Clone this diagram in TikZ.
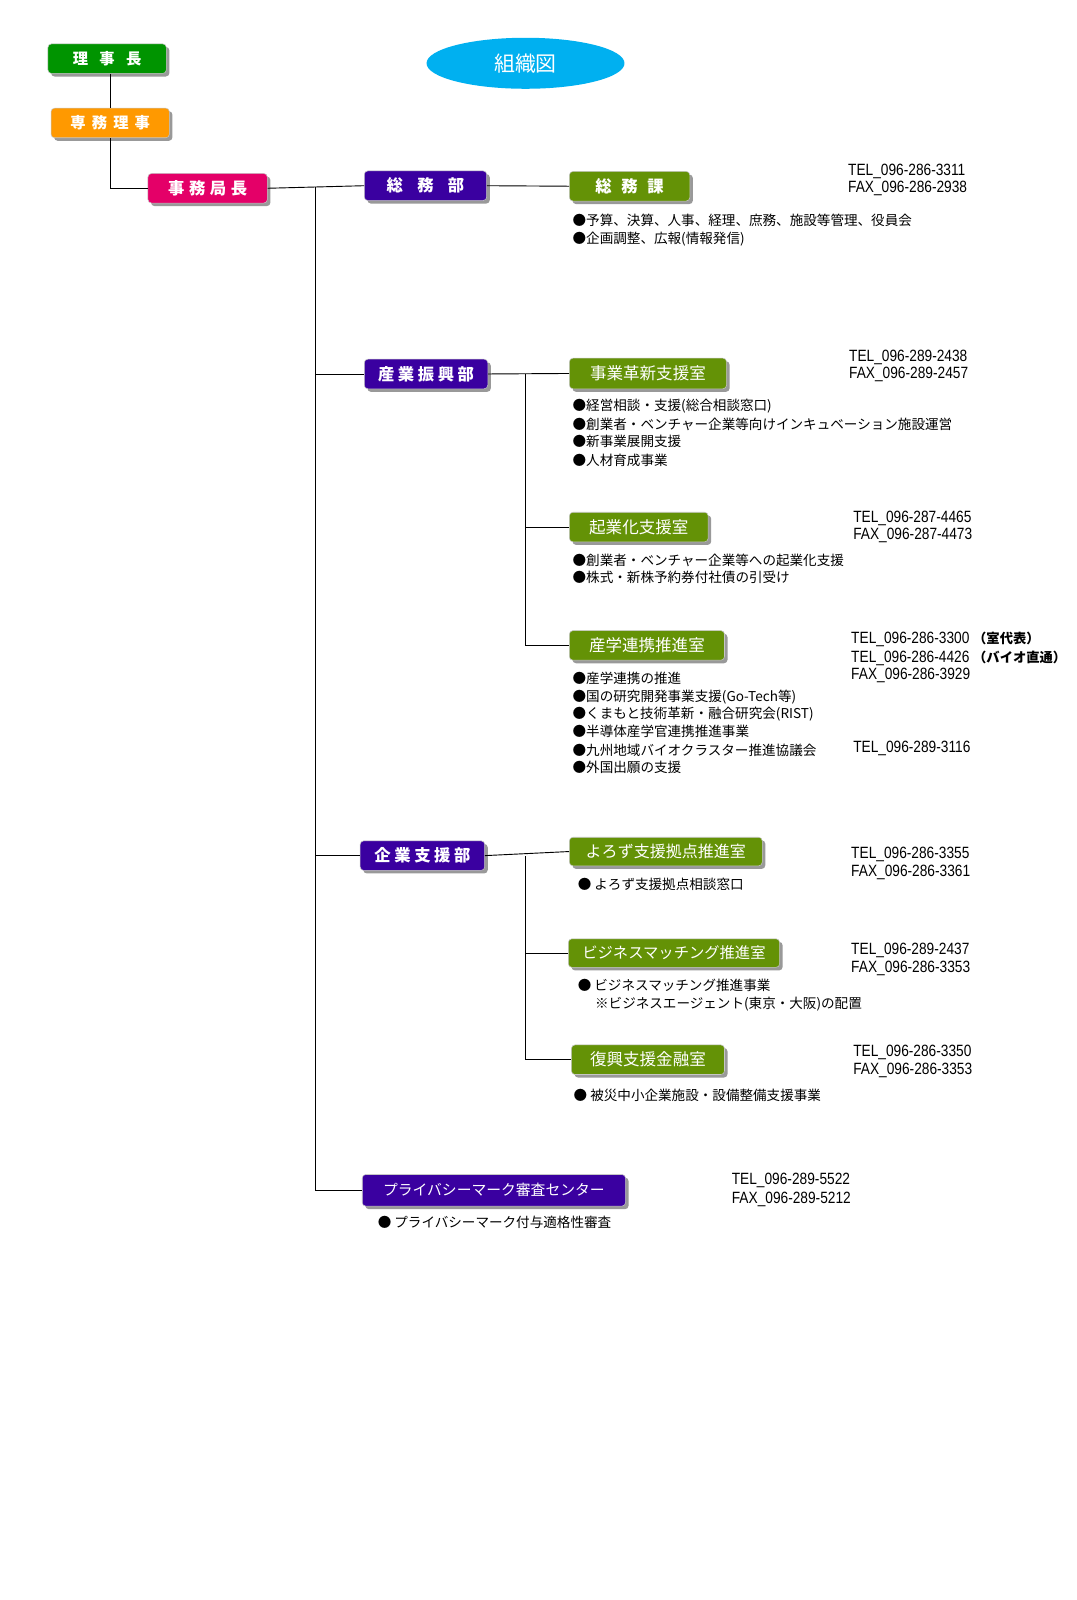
\documentclass[tikz,border=0pt]{standalone}
\usepackage{fontspec}
\setmainfont{Noto Sans CJK JP}
\newfontfamily\telfont[FakeStretch=0.84]{Liberation Sans}
\newcommand\jgap[1]{\hspace{#1pt}}
\usetikzlibrary{shadows,shapes.geometric}
\definecolor{cgreen}{RGB}{0,148,0}
\definecolor{corange}{RGB}{255,153,0}
\definecolor{cpink}{RGB}{228,0,104}
\definecolor{cpurple}{RGB}{58,0,160}
\definecolor{colive}{RGB}{100,146,6}
\definecolor{ccyan}{RGB}{0,176,240}
\tikzset{
  box/.style={rounded corners=3.5pt, text=white, inner sep=0pt, minimum height=29pt,
    draw=white!55!gray, line width=0.5pt,
    drop shadow={shadow xshift=3pt, shadow yshift=-3pt, fill=black!40, opacity=1}},
  topbox/.style={box, font=\bfseries\fontsize{15}{17}\selectfont},
  deptbox/.style={box, fill=cpurple, font=\bfseries\fontsize{16}{18}\selectfont},
  secbox/.style={box, fill=colive, font=\fontsize{16.2}{18}\selectfont},
  bl/.style={anchor=west, inner sep=0pt, font=\fontsize{13.3}{15}\selectfont},
  tl/.style={anchor=west, inner sep=0pt, font=\telfont\fontsize{16}{18}\selectfont},
  link/.style={draw=black, line width=0.9pt}
}
\begin{document}
\begin{tikzpicture}[x=1pt,y=-1pt]
\fill[white] (0,0) rectangle (1054.5,1568);
\useasboundingbox (0,0) rectangle (1054.5,1568);

% title
\node[ellipse, fill=ccyan, minimum width=194pt, minimum height=50pt, text=white,
  font=\fontsize{20.5}{22}\selectfont] (title) at (515,62) {組織図};

% top hierarchy
\node[topbox, fill=cgreen, minimum width=116pt] (riji) at (105,57.5) {理\jgap{11}事\jgap{11}長};
\node[topbox, fill=corange, minimum width=116pt] (senmu) at (108,120.5) {専\jgap{6}務\jgap{6}理\jgap{6}事};
\node[topbox, fill=cpink, minimum width=117pt, font=\bfseries\fontsize{16}{18}\selectfont] (jimu) at (203.5,184.5) {事\jgap{4.5}務\jgap{4.5}局\jgap{4.5}長};

% departments
\node[deptbox, minimum width=120pt] (somubu) at (417,182) {総\jgap{14}務\jgap{14}部};
\node[deptbox, minimum width=121pt] (sangyo) at (417.5,366.5) {産\jgap{3.5}業\jgap{3.5}振\jgap{3.5}興\jgap{3.5}部};
\node[deptbox, minimum width=122pt] (kigyo) at (414,838.5) {企\jgap{3.5}業\jgap{3.5}支\jgap{3.5}援\jgap{3.5}部};
\node[box, fill=cpurple, minimum width=258pt, minimum height=31pt, font=\fontsize{14.5}{17}\selectfont] (priv) at (484,1166.5) {プライバシーマーク審査センター};

% sections
\node[secbox, minimum width=118pt, font=\bfseries\fontsize{16}{18}\selectfont] (somuka) at (617,182.5) {総\jgap{9.5}務\jgap{9.5}課};
\node[secbox, minimum width=154pt, minimum height=30pt] (kakushin) at (635,366) {事業革新支援室};
\node[secbox, minimum width=136pt] (kigyoka) at (626,516.5) {起業化支援室};
\node[secbox, minimum width=152pt] (sangaku) at (634,632.5) {産学連携推進室};
\node[secbox, minimum width=189pt, minimum height=28pt, font=\fontsize{15.7}{18}\selectfont] (yorozu) at (652.5,834.5) {よろず支援拠点推進室};
\node[secbox, minimum width=207pt, minimum height=28pt, font=\fontsize{15}{18}\selectfont] (biz) at (660.5,934) {ビジネスマッチング推進室};
\node[secbox, minimum width=150pt] (fukko) at (635,1038.5) {復興支援金融室};

% connectors
\draw[link] (senmu.north |- riji.south) -- (senmu.north);
\draw[link] (senmu.south) |- (jimu.west);
\draw[link] (jimu.east) -- (somubu.west);
\coordinate (trunk) at (309,183);
\draw[link] (trunk) |- (priv.west);
\draw[link] (trunk |- sangyo.west) -- (sangyo.west);
\draw[link] (trunk |- kigyo.west) -- (kigyo.west);
\draw[link] (somubu.east) -- (somuka.west);
\draw[link] (sangyo.east) -- (kakushin.west);
\coordinate (sub1) at (515,367);
\draw[link] (sub1) |- (sangaku.west);
\draw[link] (sub1 |- kigyoka.west) -- (kigyoka.west);
\draw[link] (kigyo.east) -- (yorozu.west);
\coordinate (sub2) at (515,839);
\draw[link] (sub2) |- (fukko.west);
\draw[link] (sub2 |- biz.west) -- (biz.west);

% bullet texts
\node[bl] (t1a) at (561,216) {●予算、決算、人事、経理、庶務、施設等管理、役員会};
\node[bl] (t1b) at (561,234) {●企画調整、広報(情報発信)};
\node[bl] (t2a) at (561,398) {●経営相談・支援(総合相談窓口)};
\node[bl] (t2b) at (561,416) {●創業者・ベンチャー企業等向けインキュベーション施設運営};
\node[bl] (t2c) at (561,433) {●新事業展開支援};
\node[bl] (t2d) at (561,451) {●人材育成事業};
\node[bl] (t3a) at (561,549) {●創業者・ベンチャー企業等への起業化支援};
\node[bl] (t3b) at (561,566) {●株式・新株予約券付社債の引受け};
\node[bl] (t4a) at (561,665) {●産学連携の推進};
\node[bl] (t4b) at (561,683) {●国の研究開発事業支援(Go-Tech等)};
\node[bl] (t4c) at (561,700) {●くまもと技術革新・融合研究会(RIST)};
\node[bl] (t4d) at (561,717) {●半導体産学官連携推進事業};
\node[bl] (t4e) at (561,735) {●九州地域バイオクラスター推進協議会};
\node[bl] (t4f) at (561,752) {●外国出願の支援};
\node[bl] (t5a) at (566,867) {● よろず支援拠点相談窓口};
\node[bl] (t6a) at (566,966) {● ビジネスマッチング推進事業};
\node[bl] (t6b) at (583,984) {※ビジネスエージェント(東京・大阪)の配置};
\node[bl] (t7a) at (562,1073) {● 被災中小企業施設・設備整備支援事業};
\node[bl] (t8a) at (370,1198) {● プライバシーマーク付与適格性審査};

% phone numbers
\node[tl] (p1a) at (831,168) {TEL\_096-286-3311};
\node[tl] (p1b) at (831,185) {FAX\_096-286-2938};
\node[tl] (p2a) at (832,350) {TEL\_096-289-2438};
\node[tl] (p2b) at (832,367) {FAX\_096-289-2457};
\node[tl] (p3a) at (836,508) {TEL\_096-287-4465};
\node[tl] (p3b) at (836,525) {FAX\_096-287-4473};
\node[tl] (p4a) at (834,627) {TEL\_096-286-3300 {\rmfamily\bfseries\fontsize{13}{15}\selectfont （室代表）}};
\node[tl] (p4b) at (834,645) {TEL\_096-286-4426 {\rmfamily\bfseries\fontsize{13}{15}\selectfont （バイオ直通）}};
\node[tl] (p4c) at (834,662) {FAX\_096-286-3929};
\node[tl] (p4d) at (836,733) {TEL\_096-289-3116};
\node[tl] (p5a) at (834,837) {TEL\_096-286-3355};
\node[tl] (p5b) at (834,855) {FAX\_096-286-3361};
\node[tl] (p6a) at (834,931) {TEL\_096-289-2437};
\node[tl] (p6b) at (834,949) {FAX\_096-286-3353};
\node[tl] (p7a) at (836,1031) {TEL\_096-286-3350};
\node[tl] (p7b) at (836,1049) {FAX\_096-286-3353};
\node[tl] (p8a) at (717,1157) {TEL\_096-289-5522};
\node[tl] (p8b) at (717,1175) {FAX\_096-289-5212};
\end{tikzpicture}
\end{document}
